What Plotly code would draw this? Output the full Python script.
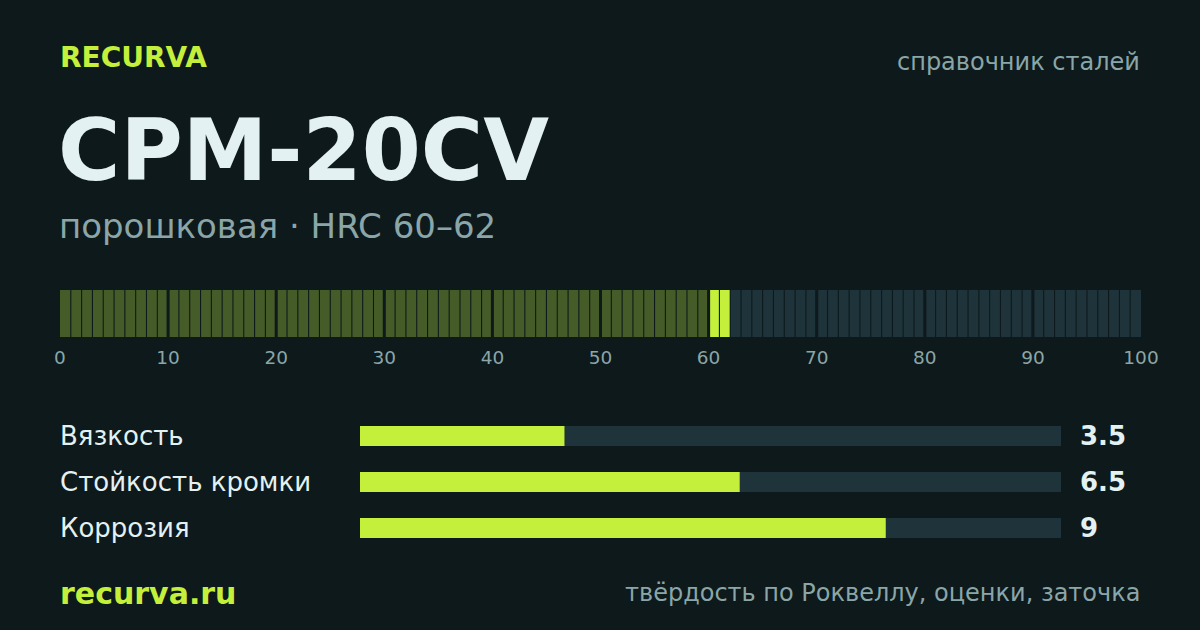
import plotly.graph_objects as go

# ---- data ----
brand = "RECURVA"
section = "справочник сталей"
steel_name = "CPM-20CV"
subtitle = "порошковая · HRC 60–62"
hrc_min = 60
hrc_max = 62
scale_ticks = [0, 10, 20, 30, 40, 50, 60, 70, 80, 90, 100]
metric_names = ["Вязкость", "Стойкость кромки", "Коррозия"]
metric_values = [3.5, 6.5, 9]
metric_labels = ["3.5", "6.5", "9"]
metric_max = 12
footer_left = "recurva.ru"
footer_right = "твёрдость по Роквеллу, оценки, заточка"

# ---- styles ----
BG = "#0d191b"
LIME = "#c4f03c"
OLIVE = "#465c28"
TEAL = "#1e343a"
LIGHT = "#e4f1f2"
GREY = "#8aa6a8"
FONT = "DejaVu Sans"
W, H = 1200, 630

def py(px):
    return 1 - px / H

def px_x(px):
    return px / W

fig = go.Figure()

# hardness strip cells
n_cells = scale_ticks[-1]
centers, widths, colors = [], [], []
for i in range(n_cells):
    left = i + (0 if i == 0 else (0.14 if i % 10 == 0 else 0.05))
    right = i + 1 - (0 if i == n_cells - 1 else (0.14 if i % 10 == 9 else 0.05))
    centers.append((left + right) / 2)
    widths.append(right - left)
    if i < hrc_min:
        colors.append(OLIVE)
    elif i < hrc_max:
        colors.append(LIME)
    else:
        colors.append(TEAL)

fig.add_trace(go.Bar(x=centers, y=[1] * n_cells, width=widths, base=0,
                     marker=dict(color=colors, line=dict(width=0)),
                     xaxis="x", yaxis="y", hoverinfo="skip", showlegend=False))

# metric tracks and values
fig.add_trace(go.Bar(x=[metric_max] * len(metric_names), y=metric_names, orientation="h",
                     marker=dict(color=TEAL, line=dict(width=0)), width=0.44,
                     xaxis="x2", yaxis="y2", hoverinfo="skip", showlegend=False))
fig.add_trace(go.Bar(x=metric_values, y=metric_names, orientation="h",
                     marker=dict(color=LIME, line=dict(width=0)), width=0.44,
                     xaxis="x2", yaxis="y2", hoverinfo="skip", showlegend=False))

ann = []
def text(x, y, s, size, color, anchor="left", bold=False):
    ann.append(dict(x=px_x(x), y=py(y), xref="paper", yref="paper", text=(f"<b>{s}</b>" if bold else s),
                    showarrow=False, xanchor=anchor, yanchor="middle",
                    font=dict(family=FONT, size=size, color=color)))

text(58, 57, brand, 28, LIME, bold=True)
text(1142, 62, section, 24, GREY, anchor="right")
text(56, 150, steel_name, 85, LIGHT, bold=True)
text(57, 226, subtitle, 34, GREY)
rows_y = [436, 482, 528]
for name, lab, yy in zip(metric_names, metric_labels, rows_y):
    text(58, yy, name, 26, LIGHT)
    text(1078, yy, lab, 26, LIGHT, bold=True)
text(58, 593, footer_left, 30, LIME, bold=True)
text(1142, 593, footer_right, 24, GREY, anchor="right")

fig.update_layout(
    template="none",
    width=W, height=H, margin=dict(l=0, r=0, t=0, b=0, pad=0, autoexpand=False),
    paper_bgcolor=BG, plot_bgcolor=BG, barmode="overlay",
    annotations=ann,
    xaxis=dict(domain=[px_x(60), px_x(1141)], range=[0, 100], tickvals=scale_ticks,
               showgrid=False, zeroline=False, showline=False, ticks="", automargin=False,
               ticklabelstandoff=7,
               tickfont=dict(family=FONT, size=18.5, color=GREY), anchor="y"),
    yaxis=dict(domain=[py(337), py(290)], range=[0, 1], visible=False),
    xaxis2=dict(domain=[px_x(360), px_x(1061)], range=[0, metric_max], visible=False, anchor="y2"),
    yaxis2=dict(domain=[py(551), py(413)], range=[2.5, -0.5], visible=False, anchor="x2",
                categoryorder="array", categoryarray=metric_names),
)

fig.write_html("out.html", config={"responsive": False, "displayModeBar": False},
               post_script="document.body.style.margin='0';document.body.style.overflow='hidden';document.body.style.background='" + BG + "';")
